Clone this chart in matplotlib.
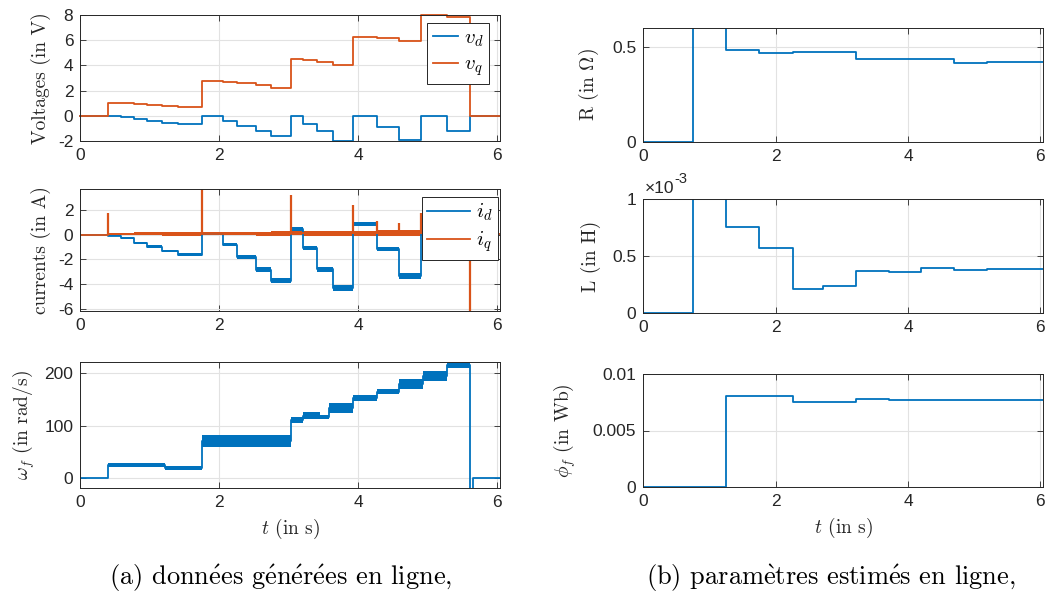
import matplotlib.pyplot as plt
import numpy as np

plt.rcParams['font.family'] = 'Liberation Sans'
plt.rcParams['mathtext.fontset'] = 'cm'
plt.rcParams['axes.unicode_minus'] = False

BLUE = '#0072BD'
ORANGE = '#D95319'
DARK = '#262626'
T_END = 6.04

# segment start times of the generated data (s)
t_seg = [0, 0.40, 0.59, 0.77, 0.96, 1.17, 1.41, 1.75, 2.06, 2.26, 2.53, 2.75,
         3.03, 3.21, 3.41, 3.63, 3.93, 4.27, 4.59, 4.91, 5.28, 5.61]

# voltages (V)
v_d = [0, 0, -0.13, -0.27, -0.41, -0.54, -0.67, 0, -0.39, -0.81, -1.18, -1.58,
       0, -0.65, -1.18, -2.0, 0, -0.92, -1.9, 0, -1.2, 0]
v_q = [0, 1.02, 0.98, 0.93, 0.87, 0.80, 0.72, 2.79, 2.72, 2.62, 2.45, 2.22,
       4.51, 4.43, 4.30, 4.03, 6.23, 6.15, 5.94, 8.0, 7.87, 0]

# currents (A): level and ripple half-width per segment
i_d = [0, -0.05, -0.26, -0.64, -0.96, -1.33, -1.6, 0.05, -0.8, -1.81, -2.82, -3.73,
       0.5, -1.06, -2.8, -4.34, 0.91, -1.14, -3.36, 1.2, -1.16, 0.05]
i_d_rip = [0, 0.05, 0.08, 0.1, 0.1, 0.1, 0.12, 0.05, 0.12, 0.15, 0.18, 0.2,
           0.15, 0.18, 0.2, 0.22, 0.15, 0.18, 0.22, 0.2, 0.15, 0]
i_q = [0, 0.08, 0.08, 0.08, 0.08, 0.08, 0.08, 0.1, 0.1, 0.1, 0.1, 0.1,
       0.12, 0.12, 0.12, 0.12, 0.15, 0.15, 0.15, 0.15, 0.15, 0.05]
i_q_rip = [0, 0.1, 0.1, 0.12, 0.12, 0.14, 0.14, 0.12, 0.14, 0.14, 0.16, 0.18,
           0.16, 0.18, 0.18, 0.2, 0.2, 0.22, 0.22, 0.22, 0.22, 0]
spike_t = [0.40, 1.75, 3.03, 3.93, 4.27, 4.59, 4.91, 5.61]
spike_v = [1.75, 3.8, 3.25, 2.45, 1.1, 1.0, 1.8, -6.5]

# speed (rad/s)
w_t = [0, 0.40, 1.22, 1.75, 3.03, 3.21, 3.45, 3.58, 3.93, 4.27, 4.59, 4.93, 5.28, 5.61, 5.645]
w_f = [0, 26, 19, 71, 111, 119, 117, 134, 153, 165, 180, 195, 215, -25, 0]
w_rip = [0, 4, 4, 11, 6, 7, 4, 10, 5, 5, 9, 10, 5, 0, 0]

# online estimates
t_est = [0, 0.75, 1.25, 1.75, 2.26, 2.72, 3.21, 3.72, 4.19, 4.70, 5.20]
R_est = [0, 5, 0.484, 0.468, 0.472, 0.472, 0.439, 0.437, 0.435, 0.418, 0.421]
L_est = [0, 5e-3, 0.75e-3, 0.568e-3, 0.212e-3, 0.235e-3, 0.368e-3, 0.362e-3,
         0.391e-3, 0.379e-3, 0.385e-3]
phi_est = [0, 0, 0.00805, 0.00808, 0.00754, 0.00754, 0.00775, 0.00774,
           0.00774, 0.00769, 0.00769]


def ext(t, y):
    return np.append(t, T_END), np.append(y, y[-1])


def style(ax, yticks, ylim, ylabels=None):
    ax.set_xlim(0, T_END)
    ax.set_xticks([0, 2, 4, 6])
    ax.set_ylim(*ylim)
    ax.set_yticks(yticks)
    if ylabels is not None:
        ax.set_yticklabels(ylabels)
    ax.tick_params(direction='in', top=True, right=True, length=4, width=0.6,
                   colors=DARK, labelsize=12.5, pad=5)
    ax.grid(True, color='#e2e2e2', lw=0.8)
    ax.set_axisbelow(True)
    for s in ax.spines.values():
        s.set_color(DARK)
        s.set_linewidth(0.7)


def ylab(ax, text, xpix):
    ax.set_ylabel(text, fontfamily='cmr10', fontsize=14, color=DARK)
    bb = ax.get_position()
    ax.yaxis.set_label_coords((xpix / 1046 - bb.x0) / bb.width, 0.5)


def legend(ax, handles, labels, anchor, hl):
    lg = ax.legend(handles, labels, loc='upper right', bbox_to_anchor=anchor,
                   borderaxespad=0, fancybox=False, edgecolor=DARK, framealpha=1,
                   fontsize=15, handlelength=hl, borderpad=0.25, labelspacing=0.3,
                   handletextpad=0.3)
    lg.get_frame().set_linewidth(0.7)


fig = plt.figure(figsize=(10.46, 5.97), dpi=100)
W, H = 1046, 597


def add_ax(x0, x1, y0, y1):
    return fig.add_axes([x0 / W, 1 - y1 / H, (x1 - x0) / W, (y1 - y0) / H])


ax1 = add_ax(80.3, 500, 15, 141)
ax2 = add_ax(80.3, 500, 189, 311)
ax3 = add_ax(80.3, 500, 362, 488)
ax4 = add_ax(643.3, 1043, 28, 142)
ax5 = add_ax(643.3, 1043, 199, 313)
ax6 = add_ax(643.3, 1043, 374, 487)

# voltages
x, y = ext(t_seg, v_d)
l1, = ax1.step(x, y, where='post', color=BLUE, lw=1.3, clip_on=False)
x, y = ext(t_seg, v_q)
l2, = ax1.step(x, y, where='post', color=ORANGE, lw=1.3, clip_on=False)
style(ax1, [-2, 0, 2, 4, 6, 8], (-2, 8))
ylab(ax1, 'Voltages (in V)', 51)
legend(ax1, [l1, l2], [r'$v_d$', r'$v_q$'], (0.974, 0.937), 1.22)

# currents
x, y = ext(t_seg, i_d)
_, r = ext(t_seg, i_d_rip)
ax2.fill_between(x, y - r, y + r, step='post', color=BLUE, lw=0)
l3, = ax2.step(x, y, where='post', color=BLUE, lw=1.3)
x, y = ext(t_seg, i_q)
_, r = ext(t_seg, i_q_rip)
ax2.fill_between(x, y - r, y + r, step='post', color=ORANGE, lw=0)
l4, = ax2.step(x, y, where='post', color=ORANGE, lw=1.3)
ax2.vlines(spike_t, 0.1, spike_v, color=ORANGE, lw=1.6)
style(ax2, [-6, -4, -2, 0, 2], (-6.2, 3.74))
ylab(ax2, 'currents (in A)', 51)
legend(ax2, [l3, l4], [r'$i_d$', r'$i_q$'], (0.996, 0.937), 2.06)

# speed
x, y = ext(w_t, w_f)
_, r = ext(w_t, w_rip)
ax3.fill_between(x, y - r, y + r, step='post', color=BLUE, lw=0)
ax3.step(x, y, where='post', color=BLUE, lw=1.3)
style(ax3, [0, 100, 200], (-18.5, 221.5))
ylab(ax3, r'$\omega_f$ (in rad/s)', 37)
ax3.set_xlabel(r'$t$ (in s)', fontfamily='cmr10', fontsize=14, color=DARK, labelpad=5)

# estimates
x, y = ext(t_est, R_est)
ax4.step(x, y, where='post', color=BLUE, lw=1.3)
style(ax4, [0, 0.5], (0, 0.6), ['0', '0.5'])
ylab(ax4, r'R (in $\Omega$)', 601)

x, y = ext(t_est, np.array(L_est) * 1e3)
ax5.step(x, y, where='post', color=BLUE, lw=1.3)
style(ax5, [0, 0.5, 1], (0, 1), ['0', '0.5', '1'])
ylab(ax5, 'L (in H)', 601)
ax5.text(0.004, 1.03, '\u00d710', transform=ax5.transAxes, fontsize=12.5, color=DARK,
         ha='left', va='bottom')
ax5.text(0.078, 1.11, '-3', transform=ax5.transAxes, fontsize=10.5, color=DARK,
         ha='left', va='bottom')

x, y = ext(t_est, phi_est)
ax6.step(x, y, where='post', color=BLUE, lw=1.3)
style(ax6, [0, 0.005, 0.01], (0, 0.01), ['0', '0.005', '0.01'])
ylab(ax6, r'$\phi_f$ (in Wb)', 578)
ax6.set_xlabel(r'$t$ (in s)', fontfamily='cmr10', fontsize=14, color=DARK, labelpad=5)

fig.text(281 / W, 1 - 578 / H,
         r'(a) donn$\acute{\rm e}$es g$\acute{\rm e}$n$\acute{\rm e}$r$\acute{\rm e}$es en ligne,',
         fontfamily='cmr10', fontsize=19, ha='center', va='center', color='black')
fig.text(831 / W, 1 - 578 / H,
         r'(b) param$\grave{\rm e}$tres estim$\acute{\rm e}$s en ligne,',
         fontfamily='cmr10', fontsize=19, ha='center', va='center', color='black')

fig.savefig('out.png', dpi=100)
